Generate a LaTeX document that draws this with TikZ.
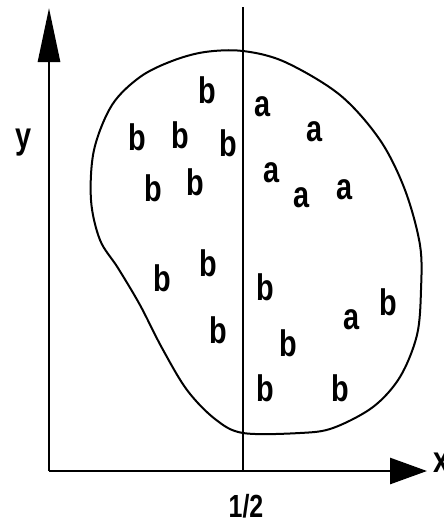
\documentclass[tikz,border=0pt]{standalone}
\usepackage{fontspec}
\setmainfont[FakeStretch=0.78]{Liberation Sans}
\usetikzlibrary{arrows.meta}
\begin{document}
\begin{tikzpicture}[
  x=1pt, y=-1pt,
  font=\fontsize{37}{40}\selectfont\bfseries,
  axis/.style={line width=2.8pt},
  split/.style={line width=2.4pt},
  blob/.style={line width=2pt, line join=round},
  pt/.style={inner sep=0pt},
  lbl/.style={inner sep=0pt}
]
\useasboundingbox (0,0) rectangle (444,523);

\coordinate (O) at (49,471);
\coordinate (ytop) at (49,8);
\coordinate (xend) at (427,471);
\coordinate (half) at (243,471);
\coordinate (vtop) at (243,7);

% axes and the split line
\draw[axis, -{Triangle[length=54pt, width=22pt]}] (O) -- (ytop);
\draw[axis, -{Triangle[length=37pt, width=26pt]}] (O) -- (xend);
\draw[split] (half) -- (vtop);

\node[lbl] (ylab) at (24,143) {y};
\node[lbl, anchor=west] (xlab) at (433,463) {x};
\node[lbl, font=\fontsize{32}{34}\selectfont\bfseries] (hlab) at (246,506) {1/2};

% region
\draw[blob] plot[smooth cycle, tension=0.55] coordinates {
  (205,52) (243,51) (285,62) (340,95) (380,140) (405,190) (420,245)
  (421,290) (417,335) (400,377) (373,407) (333,428) (300,433) (243,433)
  (215,419) (187,390) (162,348) (140,305) (118,268) (100,240) (91,200)
  (94,150) (112,105) (140,77) (172,61)};

% points of class a
\node[pt] (a1) at (263,107) {a};
\node[pt] (a2) at (315,132) {a};
\node[pt] (a3) at (272,173) {a};
\node[pt] (a4) at (302,198) {a};
\node[pt] (a5) at (345,190) {a};
\node[pt] (a6) at (352,320) {a};

% points of class b
\node[pt] (b1) at (207,90) {b};
\node[pt] (b2) at (137,137) {b};
\node[pt] (b3) at (180,135) {b};
\node[pt] (b4) at (228,143) {b};
\node[pt] (b5) at (153,188) {b};
\node[pt] (b6) at (195,182) {b};
\node[pt] (b7) at (162,278) {b};
\node[pt] (b8) at (208,263) {b};
\node[pt] (b9) at (265,287) {b};
\node[pt] (b10) at (388,302) {b};
\node[pt] (b11) at (218,330) {b};
\node[pt] (b12) at (288,343) {b};
\node[pt] (b13) at (265,388) {b};
\node[pt] (b14) at (340,388) {b};
\end{tikzpicture}
\end{document}
